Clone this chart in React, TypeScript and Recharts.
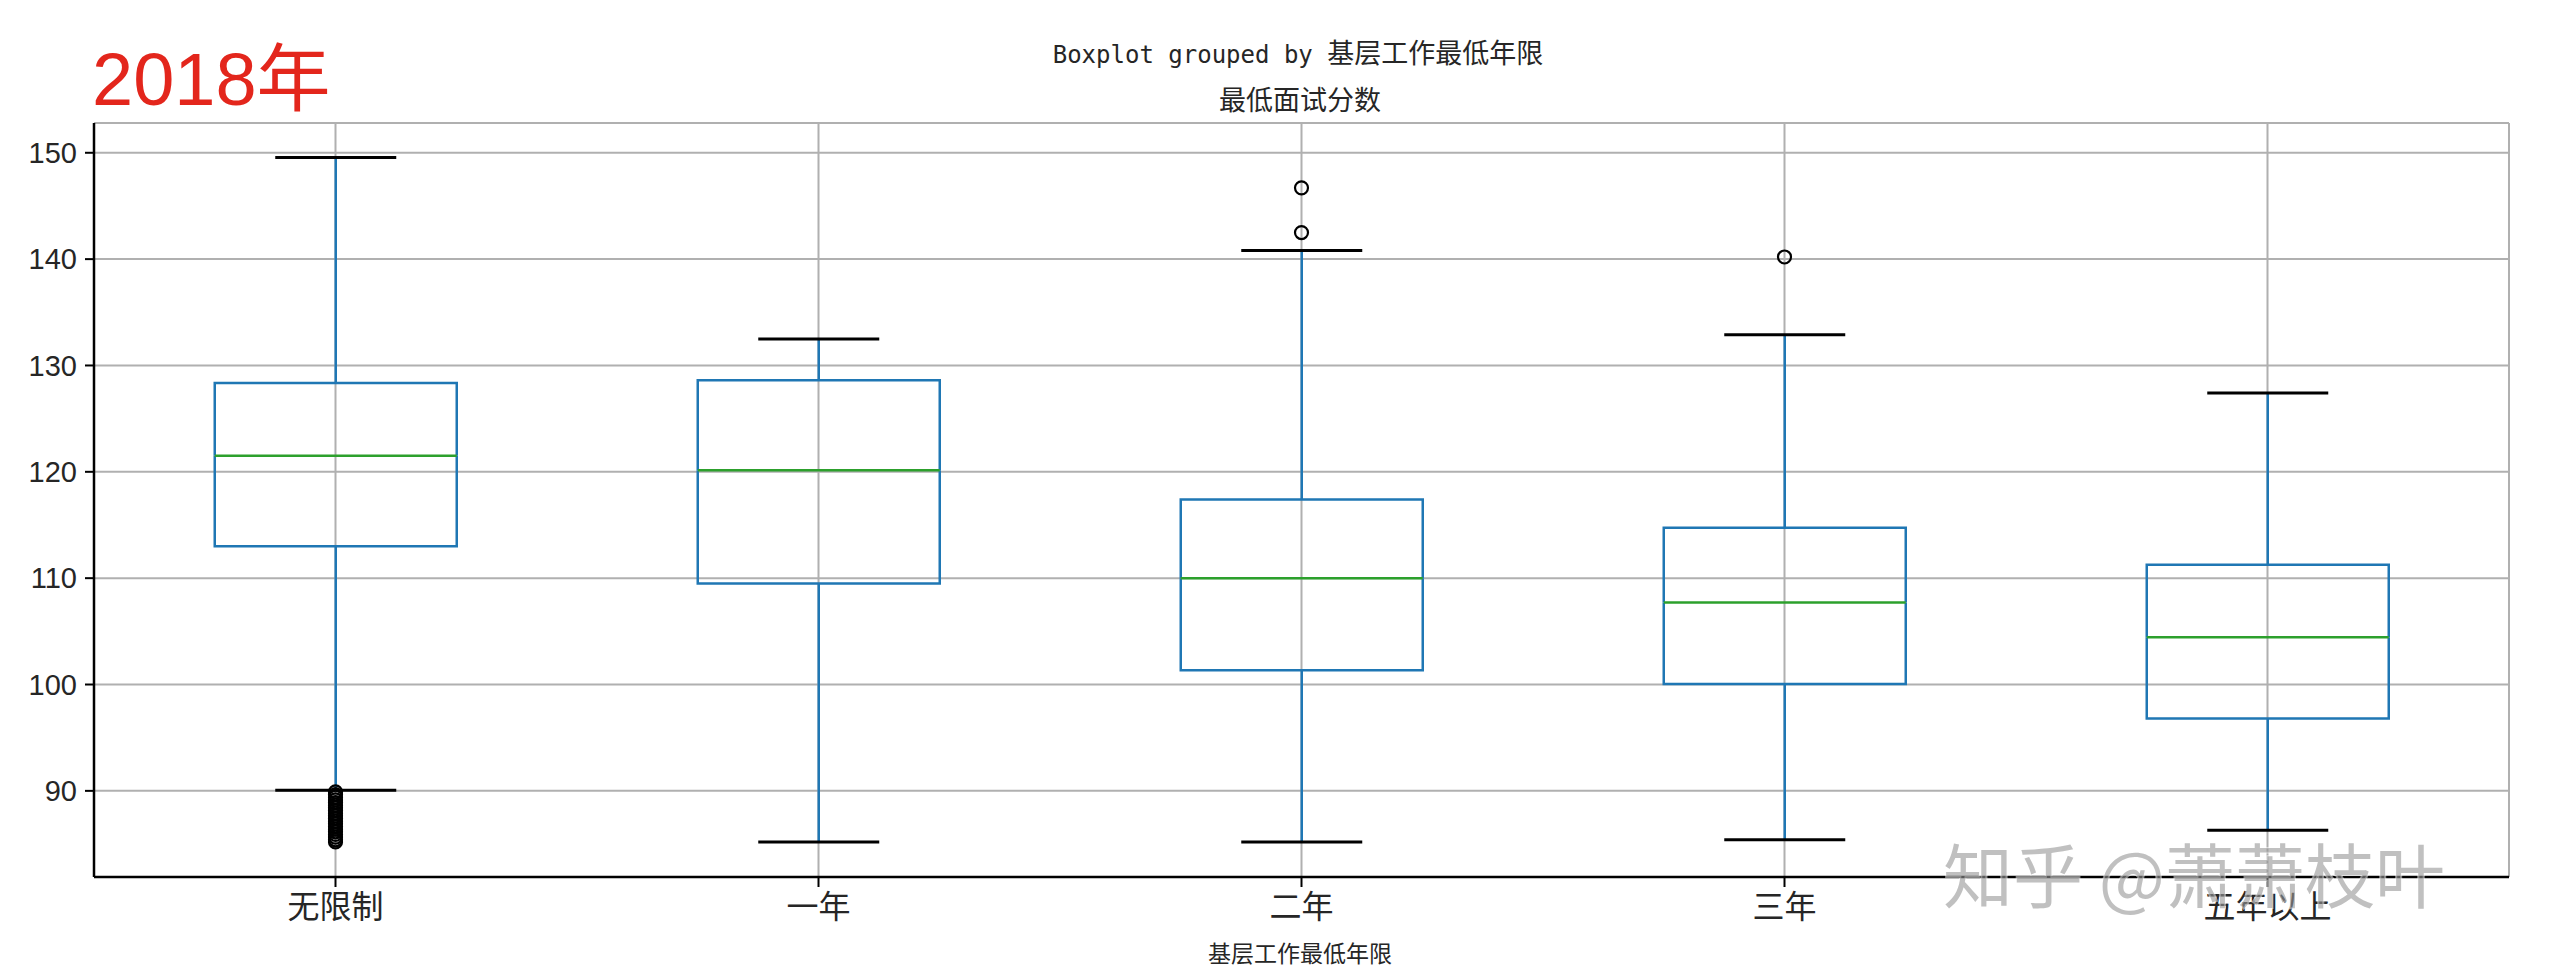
import { ComposedChart, Bar, Scatter, XAxis, YAxis, CartesianGrid, ReferenceArea } from 'recharts'

const categories = ['无限制', '一年', '二年', '三年', '五年以上']
const whiskerLow = [90.05, 85.2, 85.2, 85.4, 86.3]
const q1 = [113.0, 109.5, 101.35, 100.05, 96.8]
const median = [121.5, 120.15, 110.0, 107.7, 104.45]
const q3 = [128.35, 128.6, 117.4, 114.75, 111.25]
const whiskerHigh = [149.55, 132.5, 140.8, 132.9, 127.4]
const outliers = [
  [89.9, 89.65, 89.4, 89.15, 88.9, 88.65, 88.4, 88.15, 87.9, 87.65, 87.4, 87.15, 86.9, 86.65, 86.4, 86.15, 85.9, 85.65, 85.4, 85.2],
  [],
  [146.7, 142.5],
  [140.2],
  [],
]
const yTicks = [90, 100, 110, 120, 130, 140, 150]
const yDomain = [81.9, 152.8]

const BLUE = '#1f77b4'
const GREEN = '#2ca02c'
const TEXT = '#262626'
const LW = 2.5

const maxOutliers = Math.max(...outliers.map((o) => o.length))

// stacked segments: invisible base, lower whisker, lower half box, upper half box, upper whisker
const rows = categories.map((name, i) => {
  const row: Record<string, number | string> = {
    name,
    base: whiskerLow[i],
    lowWhisker: q1[i] - whiskerLow[i],
    lowBox: median[i] - q1[i],
    highBox: q3[i] - median[i],
    highWhisker: whiskerHigh[i] - q3[i],
  }
  outliers[i].forEach((v, k) => {
    row[`o${k}`] = v
  })
  return row
})

const Empty = () => <g />

const LowWhisker = ({ x, y, width, height }: any) => {
  const cx = x + width / 2
  return (
    <g>
      <line x1={cx} y1={y} x2={cx} y2={y + height} stroke={BLUE} strokeWidth={LW} />
      <line x1={cx - width / 4} y1={y + height} x2={cx + width / 4} y2={y + height} stroke="#000" strokeWidth={3} />
    </g>
  )
}

const HighWhisker = ({ x, y, width, height }: any) => {
  const cx = x + width / 2
  return (
    <g>
      <line x1={cx} y1={y} x2={cx} y2={y + height} stroke={BLUE} strokeWidth={LW} />
      <line x1={cx - width / 4} y1={y} x2={cx + width / 4} y2={y} stroke="#000" strokeWidth={3} />
    </g>
  )
}

const LowBox = ({ x, y, width, height }: any) => (
  <path
    d={`M${x},${y} L${x},${y + height} L${x + width},${y + height} L${x + width},${y}`}
    fill="none"
    stroke={BLUE}
    strokeWidth={LW}
  />
)

const HighBox = ({ x, y, width, height }: any) => (
  <g>
    <path
      d={`M${x},${y + height} L${x},${y} L${x + width},${y} L${x + width},${y + height}`}
      fill="none"
      stroke={BLUE}
      strokeWidth={LW}
    />
    <line x1={x} y1={y + height} x2={x + width} y2={y + height} stroke={GREEN} strokeWidth={LW} />
  </g>
)

const Flier = ({ cx, cy }: any) =>
  Number.isFinite(cx) && Number.isFinite(cy) ? (
    <circle cx={cx} cy={cy} r={6.5} fill="none" stroke="#000" strokeWidth={2.2} />
  ) : (
    <g />
  )

export default function App() {
  return (
    <div style={{ position: 'relative', width: 2560, height: 977, background: '#fff' }}>
      <style>{'body{margin:0}'}</style>
      <ComposedChart
        width={2560}
        height={977}
        data={rows}
        margin={{ top: 123, right: 51, bottom: 40, left: 0 }}
        barCategoryGap="25%"
      >
        <CartesianGrid stroke="#b0b0b0" strokeWidth={2} />
        <XAxis
          dataKey="name"
          type="category"
          interval={0}
          height={60}
          tickSize={10}
          tickMargin={8}
          axisLine={{ stroke: '#000', strokeWidth: LW }}
          tickLine={{ stroke: '#000', strokeWidth: 2 }}
          tick={{ fontSize: 32, fill: TEXT, fontFamily: 'Noto Sans CJK SC' }}
        />
        <YAxis
          type="number"
          domain={yDomain}
          ticks={yTicks}
          allowDataOverflow
          width={94}
          tickSize={9}
          tickMargin={8}
          axisLine={{ stroke: '#000', strokeWidth: LW }}
          tickLine={{ stroke: '#000', strokeWidth: 2 }}
          tick={{ fontSize: 29, fill: TEXT, fontFamily: 'Liberation Sans' }}
        />
        <Bar dataKey="base" stackId="box" shape={<Empty />} isAnimationActive={false} />
        <Bar dataKey="lowWhisker" stackId="box" shape={<LowWhisker />} isAnimationActive={false} />
        <Bar dataKey="lowBox" stackId="box" shape={<LowBox />} isAnimationActive={false} />
        <Bar dataKey="highBox" stackId="box" shape={<HighBox />} isAnimationActive={false} />
        <Bar dataKey="highWhisker" stackId="box" shape={<HighWhisker />} isAnimationActive={false} />
        {Array.from({ length: maxOutliers }, (_, k) => (
          <Scatter key={k} dataKey={`o${k}`} shape={<Flier />} isAnimationActive={false} />
        ))}
        <ReferenceArea fill="none" stroke="#000" strokeWidth={LW} ifOverflow="visible" />
      </ComposedChart>
      <svg
        width={2560}
        height={977}
        style={{ position: 'absolute', left: 0, top: 0, pointerEvents: 'none' }}
      >
        <text x={92} y={105} fontSize={74} fill="#e3261c" fontFamily="'Liberation Sans', 'Noto Sans CJK SC'">
          2018年
        </text>
        <text x={1298} y={63} textAnchor="middle" fill={TEXT} style={{ whiteSpace: 'pre' }}>
          <tspan fontFamily="'DejaVu Sans Mono'" fontSize={24}>Boxplot grouped by </tspan>
          <tspan fontFamily="'Noto Sans CJK SC'" fontSize={27}>基层工作最低年限</tspan>
        </text>
        <text x={1300} y={110} textAnchor="middle" fill={TEXT} fontFamily="'Noto Sans CJK SC'" fontSize={27}>
          最低面试分数
        </text>
        <text x={1300} y={962} textAnchor="middle" fill={TEXT} fontFamily="'Noto Sans CJK SC'" fontSize={23}>
          基层工作最低年限
        </text>
        <text
          x={1943}
          y={903}
          fontSize={70}
          fontFamily="'Noto Sans CJK SC'"
          fill="rgba(150,150,150,0.6)"
          stroke="rgba(255,255,255,0.5)"
          strokeWidth={2}
          style={{ paintOrder: 'stroke' }}
        >
          知乎 @萧萧枝叶
        </text>
      </svg>
    </div>
  )
}
